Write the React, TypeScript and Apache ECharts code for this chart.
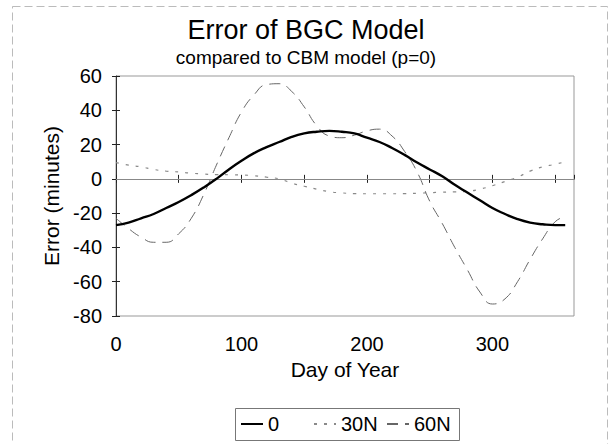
import React, { useEffect, useRef } from "react";
import * as echarts from "echarts";

const days = [0, 10, 20, 30, 40, 50, 60, 70, 80, 90, 100, 110, 120, 130, 140, 150, 160, 170, 180, 190, 200, 210, 220, 230, 240, 250, 260, 270, 280, 290, 300, 310, 320, 330, 340, 350, 358];

const lat0 = [-27, -25.5, -23, -20.5, -17, -13.5, -9.5, -5, 0, 5.5, 10.5, 15, 18.5, 21.5, 24.5, 26.5, 27.5, 28, 27.5, 26.5, 24, 21.5, 18, 14, 9.5, 5.5, 1.5, -3.5, -8, -12.5, -17, -20.5, -23.5, -25.5, -26.5, -27, -27];

const lat30N = [9.5, 8, 7, 5.5, 4.5, 4, 3.3, 2.8, 2.5, 2.4, 2.3, 1.8, 1, 0, -2.5, -4.3, -6, -7.5, -8.2, -8.6, -8.7, -8.7, -8.7, -8.6, -8.4, -8.1, -7.8, -7.6, -7.3, -6, -4, -1.5, 1, 4.5, 7, 8.5, 10];

const lat60N = [-23, -29, -34, -37, -37, -32, -23, -9, 8, 24, 39, 49, 55, 55.5, 51, 42, 31, 25, 24, 25.5, 28, 29, 25, 16, 4, -13, -26, -40, -53, -66, -73, -70, -60, -47, -35, -25, -22];

const seriesNames = ["0", "30N", "60N"];
const titleText = "Error of BGC Model";
const subtitleText = "compared to CBM model (p=0)";
const xName = "Day of Year";
const yName = "Error (minutes)";

const FONT = "'Liberation Sans', Arial, sans-serif";

const pairs = (vals: number[]) => days.map((d, i) => [d, vals[i]]);

const legendLefts = [240, 313, 386];

export default function App() {
  const ref = useRef<HTMLDivElement>(null);
  useEffect(() => {
    document.body.style.margin = "0";
    if (!ref.current) return;
    const chart = echarts.init(ref.current, undefined, { renderer: "svg" });
    const grid = { left: 116, right: 38, top: 76, bottom: 128 };
    chart.setOption({
      animation: false,
      backgroundColor: "#fff",
      textStyle: { fontFamily: FONT, color: "#000" },
      title: {
        text: titleText,
        subtext: subtitleText,
        left: "center",
        top: 11,
        itemGap: 5,
        textStyle: { fontFamily: FONT, fontSize: 27, fontWeight: "normal", color: "#000" },
        subtextStyle: { fontFamily: FONT, fontSize: 19, color: "#000" },
      },
      grid: { ...grid, show: true, borderColor: "#999", borderWidth: 1, backgroundColor: "transparent" },
      xAxis: [
        {
          type: "value",
          min: 0,
          max: 365,
          interval: 50,
          name: xName,
          nameLocation: "middle",
          nameGap: 42,
          nameTextStyle: { fontFamily: FONT, fontSize: 21, color: "#000" },
          axisLine: { show: true, lineStyle: { color: "#222", width: 1 } },
          axisTick: { show: true, inside: false, length: 4, lineStyle: { color: "#222" } },
          axisLabel: {
            margin: 18,
            fontFamily: FONT,
            fontSize: 20,
            color: "#000",
            showMaxLabel: false,
            formatter: (v: number) => (v % 100 === 0 ? String(v) : ""),
          },
          splitLine: { show: false },
        },
        {
          type: "value",
          min: 0,
          max: 365,
          interval: 50,
          position: "bottom",
          axisLine: { show: false },
          axisTick: { show: true, inside: true, length: 4, lineStyle: { color: "#222" } },
          axisLabel: { show: false },
          splitLine: { show: false },
        },
      ],
      yAxis: [
        {
          type: "value",
          min: -80,
          max: 60,
          interval: 20,
          name: yName,
          nameLocation: "middle",
          nameGap: 53,
          nameTextStyle: { fontFamily: FONT, fontSize: 21, color: "#000" },
          axisLine: { show: true, lineStyle: { color: "#333", width: 1 } },
          axisTick: { show: true, inside: false, length: 4, lineStyle: { color: "#222" } },
          axisLabel: { margin: 14, fontFamily: FONT, fontSize: 20, color: "#000" },
          splitLine: { show: false },
        },
        {
          type: "value",
          min: -80,
          max: 60,
          interval: 20,
          position: "left",
          axisLine: { show: false },
          axisTick: { show: true, inside: true, length: 4, lineStyle: { color: "#222" } },
          axisLabel: { show: false },
          splitLine: { show: false },
        },
      ],
      series: [
        {
          name: seriesNames[0],
          type: "line",
          data: pairs(lat0),
          smooth: true,
          symbol: "none",
          z: 5,
          lineStyle: { color: "#000", width: 2.4, type: "solid" },
          itemStyle: { color: "#000" },
          markLine: {
            silent: true,
            symbol: "none",
            label: { show: false },
            lineStyle: { color: "#888", width: 1, type: "solid" },
            data: [{ yAxis: 0 }],
          },
        },
        {
          name: seriesNames[1],
          type: "line",
          data: pairs(lat30N),
          smooth: true,
          symbol: "none",
          lineStyle: { color: "#8a8a8a", width: 1.2, type: [3, 7] },
          itemStyle: { color: "#8a8a8a" },
        },
        {
          name: seriesNames[2],
          type: "line",
          data: pairs(lat60N),
          smooth: true,
          symbol: "none",
          lineStyle: { color: "#666", width: 1, type: [11, 7] },
          itemStyle: { color: "#666" },
        },
      ],
      legend: seriesNames.map((n, i) => ({
        data: [n],
        left: legendLefts[i],
        top: 414,
        padding: 0,
        itemGap: 0,
        itemWidth: 22,
        itemHeight: 14,
        itemStyle: { opacity: 0 },
        textStyle: { fontFamily: FONT, fontSize: 20, color: "#000" },
      })),
      graphic: [
        {
          type: "rect",
          silent: true,
          shape: { x: 12.5, y: 6.5, width: 595, height: 450 },
          style: { fill: "none", stroke: "#bbb", lineWidth: 1, lineDash: [8, 4] },
        },
        {
          type: "rect",
          silent: true,
          shape: { x: 235.5, y: 408.5, width: 224, height: 32 },
          style: { fill: "none", stroke: "#777", lineWidth: 1 },
        },
      ],
    });
    return () => chart.dispose();
  }, []);
  return <div ref={ref} style={{ position: "absolute", left: 0, top: 0, width: 612, height: 444 }} />;
}
